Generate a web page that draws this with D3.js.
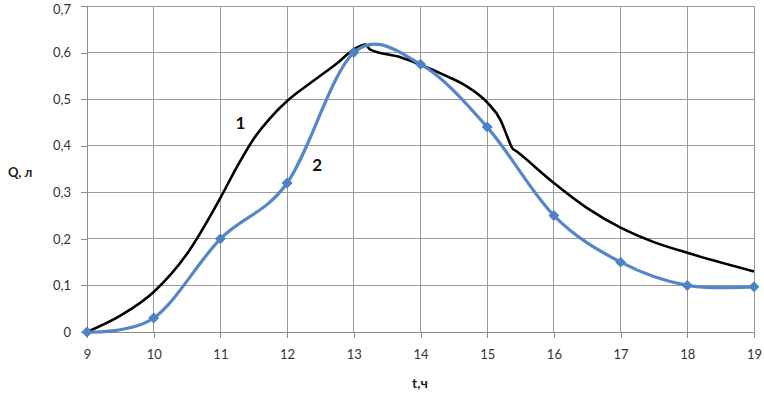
<!DOCTYPE html>
<html><head><meta charset="utf-8">
<script src="https://cdn.jsdelivr.net/npm/d3@7"></script>
<style>
html,body{margin:0;padding:0;background:#fff;}
svg{display:block;font-family:Lato,"Open Sans",sans-serif;}
</style></head>
<body>
<svg id="c" width="764" height="405"></svg>
<script>
const xTicks = [9,10,11,12,13,14,15,16,17,18,19];
const yTicks = [0,0.1,0.2,0.3,0.4,0.5,0.6,0.7];
const yTickLabels = ["0","0,1","0,2","0,3","0,4","0,5","0,6","0,7"];
// Series 2 (blue, with markers)
const s2T = [9,10,11,12,13,14,15,16,17,18,19];
const s2Q = [0,0.03,0.2,0.32,0.6,0.575,0.44,0.25,0.15,0.1,0.097];
// Series 1 (black, calculated curve)
const s1T = [9.0,9.5,10.0,10.5,11.0,11.25,11.5,11.75,12.0,12.4,12.75,13.0,13.18,13.24,13.7,14.0,14.4,14.7,15.0,15.2,15.3,15.37,15.45,16.0,16.5,17.0,17.5,18.0,19.0];
const s1Q = [0,0.035,0.086,0.168,0.288,0.355,0.415,0.46,0.496,0.54,0.577,0.607,0.617,0.607,0.59,0.574,0.549,0.527,0.493,0.455,0.42,0.396,0.387,0.32,0.266,0.224,0.193,0.17,0.13];
const labels = [{text:"1", t:11.3, q:0.45},{text:"2", t:12.45, q:0.36}];

const svg = d3.select("#c");
const x = d3.scaleLinear().domain([9,19]).range([87,754]);
const y = d3.scaleLinear().domain([0,0.7]).range([332,6]);

// grid
svg.append("g").selectAll("line").data(yTicks.slice(1)).join("line")
  .attr("x1",87).attr("x2",754).attr("y1",d=>y(d)).attr("y2",d=>y(d))
  .attr("stroke","#9a9a9a").attr("stroke-width",1).attr("shape-rendering","crispEdges");
svg.append("g").selectAll("line").data(xTicks.slice(1)).join("line")
  .attr("y1",6).attr("y2",332).attr("x1",d=>x(d)).attr("x2",d=>x(d))
  .attr("stroke","#9a9a9a").attr("stroke-width",1).attr("shape-rendering","crispEdges");

// axes
const xAxis = d3.axisBottom(x).tickValues(xTicks).tickSize(6).tickPadding(12).tickFormat(d3.format("d"));
const gx = svg.append("g").attr("transform","translate(0,332)").call(xAxis);
const yAxis = d3.axisLeft(y).tickValues(yTicks).tickSize(6).tickPadding(10).tickFormat((d,i)=>yTickLabels[i]);
const gy = svg.append("g").attr("transform","translate(87,0)").call(yAxis);
[gx,gy].forEach(g=>{
  g.select(".domain").attr("stroke","#8a8a8a").attr("shape-rendering","crispEdges");
  g.selectAll(".tick line").attr("stroke","#8a8a8a").attr("shape-rendering","crispEdges");
  g.selectAll(".tick text").attr("fill","#333").attr("font-size",13).attr("font-family","Lato, 'Open Sans', sans-serif");
});
gy.select(".domain").attr("d","M-6,332H0V6H-6");
gy.selectAll(".tick text").filter(d=>d===0.7).attr("dy","0.55em");

// series 1 black
const line1 = d3.line().x((d,i)=>x(s1T[i])).y((d,i)=>y(s1Q[i])).curve(d3.curveMonotoneX);
svg.append("path").attr("d",line1(s1T)).attr("fill","none").attr("stroke","#000").attr("stroke-width",2.6).attr("stroke-linejoin","round");

// series 2 blue
const line2 = d3.line().x((d,i)=>x(s2T[i])).y((d,i)=>y(s2Q[i])).curve(d3.curveCardinal.tension(0));
svg.append("path").attr("d",line2(s2T)).attr("fill","none").attr("stroke","#5586c8").attr("stroke-width",3.2).attr("stroke-linejoin","round");
svg.append("g").selectAll("path").data(s2T).join("path")
  .attr("d",d3.symbol(d3.symbolSquare, 60)())
  .attr("transform",(d,i)=>`translate(${x(d)},${y(s2Q[i])}) rotate(45)`)
  .attr("fill","#4f81c4");

// labels
svg.append("g").selectAll("text").data(labels).join("text")
  .attr("x",d=>x(d.t)).attr("y",d=>y(d.q)).attr("text-anchor","middle").attr("dominant-baseline","central")
  .attr("font-size",17).attr("font-weight","bold").attr("fill","#111").text(d=>d.text);

svg.append("text").attr("x",8).attr("y",177).attr("font-size",13).attr("font-weight","bold").attr("fill","#222").text("Q, л");
svg.append("text").attr("x",412).attr("y",388).attr("font-size",14).attr("font-weight","bold").attr("fill","#222").text("t,ч");
</script>
</body></html>
